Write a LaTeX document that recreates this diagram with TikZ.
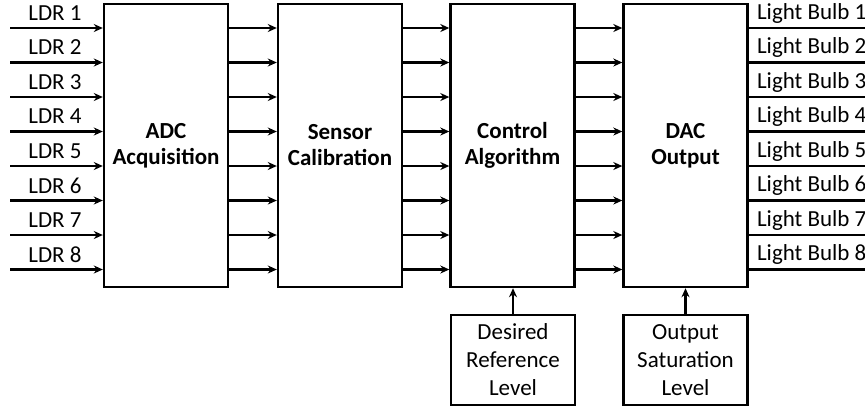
\documentclass[tikz,border=0pt]{standalone}
\usepackage{fontspec}
\setmainfont{Carlito}
\usetikzlibrary{arrows.meta}
\tikzset{
  block/.style={draw, line width=1.2pt, minimum width=62pt, minimum height=141.5pt, align=center, font=\bfseries\fontsize{11.5}{13}\selectfont},
  small block/.style={draw, line width=1.2pt, minimum width=62pt, minimum height=45pt, align=center, font=\fontsize{11.5}{14}\selectfont},
  sig/.style={line width=1.2pt, -{Stealth[length=4.5pt,width=4pt]}},
  wire/.style={line width=1.2pt},
  lbl/.style={font=\fontsize{11.5}{13}\selectfont}
}
\begin{document}
\begin{tikzpicture}[x=0.5pt,y=-0.5pt]
\useasboundingbox (0,0) rectangle (865,414);
% main chain
\node[block] (adc) at (166,145.5) {ADC\\Acquisition};
\node[block] (cal) at (340,145.5) {Sensor\\Calibration};
\node[block] (ctrl) at (512.5,145.5) {Control\\Algorithm};
\node[block] (dac) at (685.5,145.5) {DAC\\Output};
% settings
\node[small block] (ref) at (513,360) {Desired\\Reference\\Level};
\node[small block] (sat) at (685.5,360) {Output\\Saturation\\Level};
% eight channels
\foreach \i/\y in {1/28,2/62.5,3/97,4/131.5,5/166,6/200.5,7/235,8/269.5}{
  \coordinate (in\i) at (10,\y);
  \coordinate (out\i) at (865,\y);
  \node[lbl] (ldr\i) at (55,\y-15) {LDR \i};
  \node[lbl, anchor=west] (bulb\i) at (750,\y-15) {Light Bulb \i};
  \draw[sig] (in\i) -- (adc.west |- in\i);
  \draw[sig] (adc.east |- in\i) -- (cal.west |- in\i);
  \draw[sig] (cal.east |- in\i) -- (ctrl.west |- in\i);
  \draw[sig] (ctrl.east |- in\i) -- (dac.west |- in\i);
  \draw[wire] (dac.east |- in\i) -- (out\i);
}
\draw[sig] (ref.north) -- (ctrl.south -| ref.north);
\draw[sig] (sat.north) -- (dac.south -| sat.north);
\end{tikzpicture}
\end{document}
